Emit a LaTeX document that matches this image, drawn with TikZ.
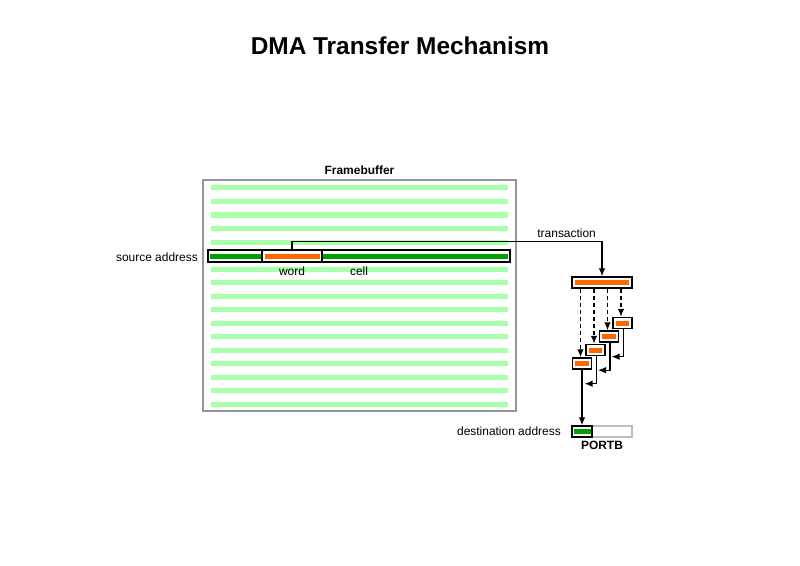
\documentclass[tikz,border=0pt]{standalone}
\usepackage{fontspec}
\setmainfont{Liberation Sans}
\usetikzlibrary{arrows.meta,positioning,calc}
\definecolor{rowgreen}{RGB}{170,255,170}
\definecolor{cellgreen}{RGB}{0,160,0}
\definecolor{wordorange}{RGB}{255,102,0}
\definecolor{framegray}{RGB}{150,150,150}
\definecolor{portgray}{RGB}{190,190,190}
\tikzset{
    title/.style = {font=\fontsize{24.5}{29}\selectfont\bfseries},
    heading/.style = {font=\fontsize{12}{14}\selectfont\bfseries},
    tag/.style = {font=\fontsize{12}{14}\selectfont},
    frame/.style = {draw=framegray, line width=1.4bp,
        minimum width=313bp, minimum height=231bp, inner sep=0pt},
    cellbox/.style = {draw, line width=1.4bp, minimum height=12bp, inner sep=0pt},
    wordbox/.style = {draw, fill=white, line width=1.4bp,
        minimum width=19bp, minimum height=11bp, inner sep=0pt},
    row/.style = {rowgreen, line width=5bp},
    bar/.style = {wordorange, line width=5bp},
    link/.style = {draw, line width=1.2bp},
    dashlink/.style = {draw, line width=1.2bp, dash pattern=on 4bp off 3bp}
}

\begin{document}
\begin{tikzpicture}[x=1bp, y=-1bp, >={Latex[length=8bp,width=6.5bp]}]
    \useasboundingbox (0,0) rectangle (800,566);
    \node [title] (title) at (400,46) {DMA Transfer Mechanism};

    % framebuffer with its rows
    \node [frame] (fb) at (359.5,295.5) {};
    \node [heading, above=1bp of fb] (fblabel) {Framebuffer};
    \foreach \r in {0,...,16} {
        \ifnum\r=5\relax\else
            \draw [row] (211,188+13.5*\r) -- (508,188+13.5*\r);
        \fi
    }

    % source cell and word
    \node [cellbox, minimum width=302bp] (cell) at (359,256) {};
    \draw [cellgreen, line width=5bp] ([xshift=3bp]cell.west) -- ([xshift=-3bp]cell.east);
    \node [cellbox, fill=white, minimum width=60bp] (word) at (292,256) {};
    \draw [bar] ([xshift=4bp]word.west) -- ([xshift=-3bp]word.east);
    \node [tag] (wordlabel) at (292,271) {word};
    \node [tag] (celllabel) at (359,271) {cell};
    \node [tag, left=6bp of cell, yshift=-1bp] (srclabel) {source address};

    % transaction
    \node [cellbox, minimum width=60bp, minimum height=11bp] (trans) at (602,282.5) {};
    \draw [bar] ([xshift=4bp]trans.west) -- ([xshift=-4bp]trans.east);
    \draw [->, link] (word.north) -- ++(0,-8) -| node [tag, above, pos=0.443] (translabel) {transaction} (trans.north);

    % words written one after another
    \foreach \i/\x/\y in {1/622.5/323, 2/609/336.5, 3/595.5/350, 4/582/363.5} {
        \node [wordbox] (b\i) at (\x,\y) {};
        \draw [bar] ([xshift=3.5bp]b\i.west) -- ([xshift=-3.5bp]b\i.east);
        \draw [->, dashlink] ([xshift=-1.5bp]b\i.north |- trans.south) -- ([xshift=-1.5bp]b\i.north);
    }
    \foreach \i/\j in {1/2,2/3,3/4}
        \draw [->, link] ([xshift=1bp]b\i.south) |- ($(b\j.south)+(2.5,14)$);

    % destination
    \node [draw=portgray, line width=1.4bp, minimum width=60bp, minimum height=11bp, inner sep=0pt] (portb) at (602,431.5) {};
    \node [cellbox, minimum width=20bp, minimum height=11bp] (dest) at (582,431.5) {};
    \draw [cellgreen, line width=5bp] ([xshift=3bp]dest.west) -- ([xshift=-2bp]dest.east);
    \draw [->, link] (b4.south) -- (dest.north);
    \node [heading, below=0bp of portb] (portlabel) {PORTB};
    \node [tag, left=7bp of dest] (dstlabel) {destination address};
\end{tikzpicture}
\end{document}
